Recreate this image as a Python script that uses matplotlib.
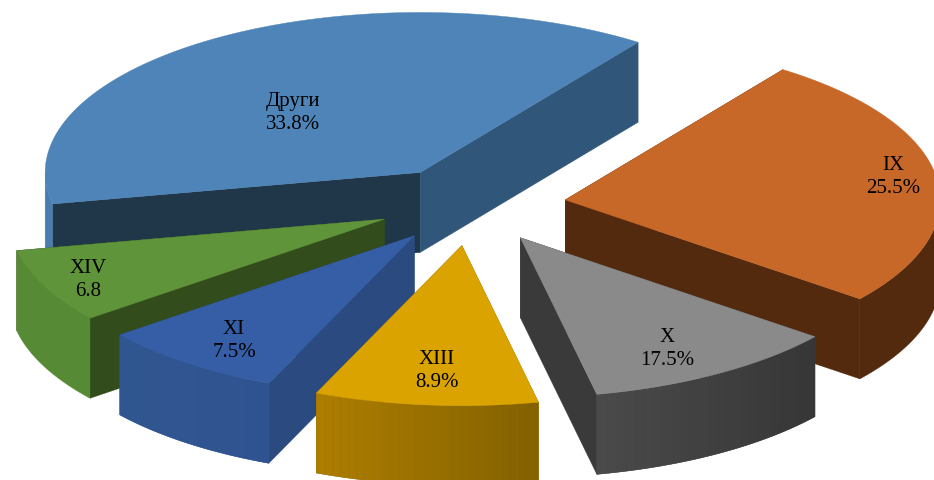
import numpy as np
import matplotlib.pyplot as plt
from matplotlib.colors import to_rgb
from matplotlib.patches import Polygon

categories = ["IX", "X", "XIII", "XI", "XIV", "Други"]
values = [25.5, 17.5, 8.9, 7.5, 6.8, 33.8]
value_texts = ["25.5%", "17.5%", "8.9%", "7.5%", "6.8", "33.8%"]

# the picture's 3D projection stretches the slices unevenly
stretch = [1.01, 0.635, 1.08, 1.07, 1.10, 1.125]
explode = [0.27, 0.27, 0.28, 0.25, 0.24, 0.22]
nudge = [(0, 6), (2, 1), (7, 1), (6, 4), (1, 3), (0, 2)]
label_pos = [(893, 177), (667, 349), (437, 371), (234, 341), (88, 280), (293, 113)]

top_colors = ["#c86828", "#8a8a8a", "#daa300", "#355ea6", "#5f943a", "#4e84b8"]
side_colors = ["#532a0e", "#3a3a3a", "#7a5c00", "#2a4a80", "#324c1c", "#203649"]
wall_left = ["#532a0e", "#4a4a4a", "#ad7d00", "#30568f", "#578a35", "#4a7dae"]
wall_right = ["#532a0e", "#363636", "#826000", "#2f5391", "#578a35", "#4a7dae"]
right_side_blue = "#30577a"

cx, cy = 465, 200
a, b = 375, 160
depth = 80
start_angle = 54.5
draw_order = [5, 0, 4, 3, 2, 1]


def ring(t):
    return a * np.cos(np.radians(t)), -b * np.sin(np.radians(t))


def mix(c1, c2, f):
    return np.array(to_rgb(c1)) * (1 - f) + np.array(to_rgb(c2)) * f


spans = np.array(values) * 3.6 * np.array(stretch)
ends = start_angle - np.cumsum(spans)
starts = ends + spans

fig = plt.figure(figsize=(9.34, 4.8), dpi=100)
ax = fig.add_axes([0, 0, 1, 1])
ax.set_xlim(0, 934)
ax.set_ylim(480, 0)
ax.axis("off")

z = 2
for i in draw_order:
    mid = (starts[i] + ends[i]) / 2
    ox, oy = ring(mid)
    x0 = cx + explode[i] * ox + nudge[i][0]
    y0 = cy + explode[i] * oy + nudge[i][1]

    ts = np.linspace(ends[i], starts[i], 160)  # left to right along the front
    xs, ys = ring(ts)
    xs = xs + x0
    ys = ys + y0

    # flat walls on the two cut edges
    for j, t in enumerate([starts[i], ends[i]]):
        ex, ey = ring(t)
        col = right_side_blue if (i == 5 and j == 1) else side_colors[i]
        ax.add_patch(Polygon([(x0, y0), (x0 + ex, y0 + ey),
                              (x0 + ex, y0 + ey + depth), (x0, y0 + depth)],
                             fc=col, ec=col, lw=0.3, zorder=z))
        z += 1

    # outer rounded wall, only the part that faces front
    front = np.sin(np.radians(ts)) <= 0
    fx, fy = xs[front], ys[front]
    if len(fx) > 1:
        outline = list(zip(fx, fy)) + list(zip(fx[::-1], fy[::-1] + depth))
        base = mix(wall_left[i], wall_right[i], 0.5)
        ax.add_patch(Polygon(outline, fc=base, ec=base, lw=0.3, zorder=z))
        z += 1
        if wall_left[i] != wall_right[i]:
            step = 6
            for k in range(0, len(fx) - 1, step):
                e = min(k + step, len(fx) - 1)
                f = (fx[k] - fx.min()) / max(fx.max() - fx.min(), 1)
                col = mix(wall_left[i], wall_right[i], f)
                seg_x = fx[k:e + 1]
                seg_y = fy[k:e + 1]
                outline = list(zip(seg_x, seg_y)) + list(zip(seg_x[::-1], seg_y[::-1] + depth))
                ax.add_patch(Polygon(outline, fc=col, ec="none", zorder=z))
                z += 1

    pts = [(x0, y0)] + list(zip(xs, ys))
    ax.add_patch(Polygon(pts, fc=top_colors[i], ec=top_colors[i], lw=0.3, zorder=z))
    z += 1

for i in range(len(categories)):
    ax.text(label_pos[i][0], label_pos[i][1], categories[i] + "\n" + value_texts[i],
            ha="center", va="center", fontsize=15, family="Liberation Serif",
            linespacing=1.25, color="black", zorder=z)

fig.savefig("out.png", dpi=100)
